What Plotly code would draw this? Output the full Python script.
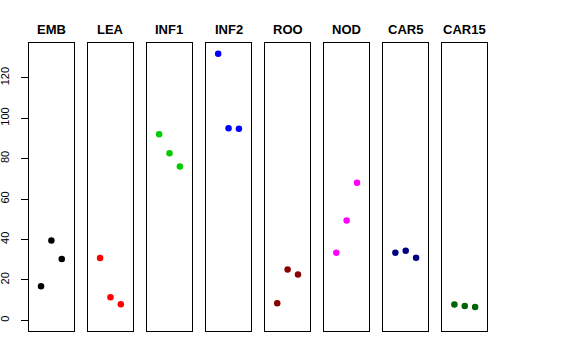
import plotly.graph_objects as go

tissues = ["EMB", "LEA", "INF1", "INF2", "ROO", "NOD", "CAR5", "CAR15"]
colors = ["#000000", "#FF0000", "#00CD00", "#0000FF", "#8B0000", "#FF00FF", "#000080", "#006400"]
replicate = [1, 2, 3]
EMB = [16.8, 39.5, 30.3]
LEA = [30.8, 11.4, 7.9]
INF1 = [92.0, 82.6, 76.1]
INF2 = [131.9, 95.0, 94.8]
ROO = [8.4, 25.2, 22.7]
NOD = [33.4, 49.4, 68.0]
CAR5 = [33.4, 34.4, 31.0]
CAR15 = [7.8, 7.1, 6.6]
values = [EMB, LEA, INF1, INF2, ROO, NOD, CAR5, CAR15]
y_ticks = [0, 20, 40, 60, 80, 100, 120]

W, H = 576, 360
ml, mr, mt, mb = 29, 88, 43, 29
plot_w = W - ml - mr
pitch = 59.05
pw = 44.8

ymax = max(max(v) for v in values)
ylo, yhi = 0 - 0.04 * ymax, ymax + 0.04 * ymax

fig = go.Figure()
annotations = []
for i, (name, col, vals) in enumerate(zip(tissues, colors, values)):
    sfx = "" if i == 0 else str(i + 1)
    fig.add_trace(go.Scatter(
        x=replicate, y=vals, mode="markers",
        marker=dict(color=col, size=6.5),
        xaxis="x" + sfx, yaxis="y" + sfx, showlegend=False,
        hoverinfo="skip"))
    d0 = pitch * i / plot_w
    d1 = (pitch * i + pw) / plot_w
    fig.layout["xaxis" + sfx] = dict(
        domain=[d0, d1], range=[-0.16, 4.16], showgrid=False, zeroline=False,
        showticklabels=False, ticks="", showline=True, mirror=True,
        linecolor="#000000", linewidth=1, anchor="y" + sfx, fixedrange=True,
        automargin=False)
    yax = dict(
        domain=[0, 1], range=[ylo, yhi], showgrid=False, zeroline=False,
        showline=True, mirror=True, linecolor="#000000", linewidth=1,
        anchor="x" + sfx, fixedrange=True, automargin=False)
    if i == 0:
        yax.update(tickmode="array", tickvals=y_ticks,
                   ticktext=[str(t) for t in y_ticks], ticks="outside",
                   ticklen=7, tickcolor="#000000", tickangle=-90,
                   ticklabelstandoff=8,
                   tickfont=dict(family="Liberation Sans, Arial, sans-serif",
                                 size=11, color="#000000"))
    else:
        yax.update(showticklabels=False, ticks="")
    fig.layout["yaxis" + sfx] = yax
    annotations.append(dict(
        text="<b>" + name + "</b>", x=(d0 + d1) / 2, xref="paper",
        y=1, yref="paper", yshift=14, showarrow=False,
        font=dict(family="Liberation Sans, Arial, sans-serif", size=13, color="#000000"),
        xanchor="center", yanchor="middle"))

fig.update_layout(
    width=W, height=H, autosize=False,
    margin=dict(l=ml, r=mr, t=mt, b=mb, pad=0, autoexpand=False),
    paper_bgcolor="white", plot_bgcolor="white",
    annotations=annotations,
)
fig.write_html("out.html", config={"displayModeBar": False, "staticPlot": True},
               post_script="document.body.style.margin='0px';")
